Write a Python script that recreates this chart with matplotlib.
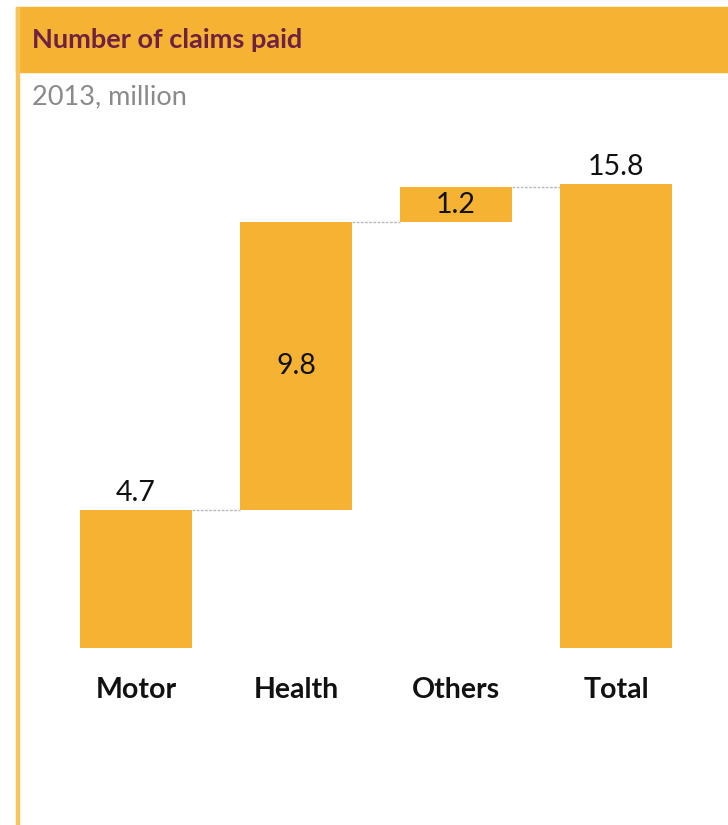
import matplotlib.pyplot as plt
from matplotlib.patches import Rectangle

plt.rcParams['font.family'] = ['Lato', 'DejaVu Sans']

categories = ['Motor', 'Health', 'Others', 'Total']
values = [4.7, 9.8, 1.2, 15.8]
is_total = [False, False, False, True]

orange = '#F6B333'
W, H = 728, 825

fig = plt.figure(figsize=(W / 100, H / 100), dpi=100)

# header band and left rule
fig.patches.append(Rectangle((16 / W, (H - 72) / H), 1 - 16 / W, 65 / H,
                             transform=fig.transFigure, color=orange, zorder=0))
fig.patches.append(Rectangle((16 / W, 0), 3 / W, (H - 7) / H,
                             transform=fig.transFigure, color='#F8C45E', zorder=0))
fig.text(32 / W, (H - 40) / H, 'Number of claims paid', fontsize=19.5,
         fontweight='bold', color='#6E2141', va='center', ha='left')
fig.text(32 / W, (H - 97) / H, '2013, million', fontsize=19.5,
         color='#8A8A8A', va='center', ha='left')

scale = (648 - 184) / 15.8  # px per unit
ax = fig.add_axes([56 / W, (H - 648) / H, 640 / W, 518 / H])
ax.set_xlim(-0.5, 3.5)
ax.set_ylim(0, 518 / scale)
ax.axis('off')

width = 0.7
bottoms = []
running = 0
for v, tot in zip(values, is_total):
    if tot:
        bottoms.append(0)
    else:
        bottoms.append(running)
        running += v

ax.bar(range(len(values)), values, bottom=bottoms, width=width, color=orange)

# connectors
tops = [b + v for b, v in zip(bottoms, values)]
for i in range(len(values) - 1):
    ax.plot([i + width / 2, i + 1 - width / 2], [tops[i], tops[i]],
            color='#BBBBBB', lw=1, ls=(0, (2, 1)))

# value labels
for i, (b, v, tot) in enumerate(zip(bottoms, values, is_total)):
    if i == 0 or tot:
        ax.text(i, tops[i] + 0.15, f'{v:.1f}', ha='center', va='bottom',
                fontsize=20.5, color='#111111')
    else:
        ax.text(i, b + v / 2, f'{v:.1f}', ha='center', va='center',
                fontsize=20.5, color='#111111')

for i, c in enumerate(categories):
    ax.text(i, -42 / scale, c, ha='center', va='center', fontsize=20.5,
            fontweight='bold', color='#111111', clip_on=False)

fig.savefig('out.png', dpi=100)
